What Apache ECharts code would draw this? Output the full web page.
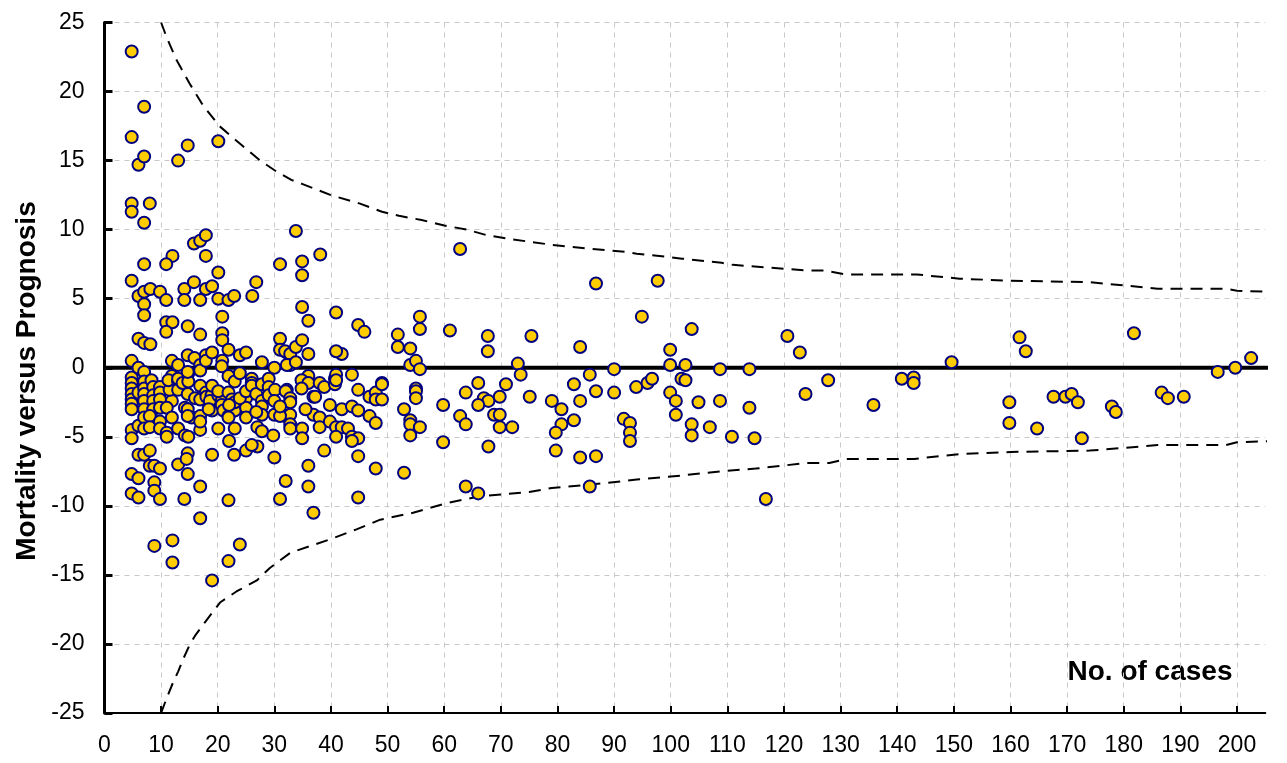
<!DOCTYPE html>
<html>
<head>
<meta charset="utf-8">
<script src="https://cdn.jsdelivr.net/npm/echarts@6/dist/echarts.min.js"></script>
<style>html,body{margin:0;padding:0;background:#fff}#c{width:1287px;height:763px}</style>
</head>
<body>
<div id="c"></div>
<script>
const xTickValues = [0,10,20,30,40,50,60,70,80,90,100,110,120,130,140,150,160,170,180,190,200];
const yTickValues = [-25,-20,-15,-10,-5,0,5,10,15,20,25];

const upperLimit = [[10,25],[11,23.9],[12.7,22.3],[15,20.6],[17.4,19.0],[20.3,17.5],[22,16.9],[24,16.2],[27.5,15.0],[30.4,14.2],[33,13.6],[35,13.3],[40,12.5],[45,11.9],[49,11.3],[52,11.0],[56,10.7],[60,10.3],[64,10.0],[67.5,9.6],[72,9.3],[79,8.9],[86,8.6],[92,8.4],[94,8.25],[98,8.1],[102,7.9],[109,7.6],[111,7.45],[124,7.05],[127,7.05],[131,6.75],[143.5,6.75],[151,6.45],[160,6.3],[174,6.2],[186,5.72],[198,5.72],[200,5.58],[208,5.46]];
const lowerLimit = [[10,-25],[11,-23.9],[12,-22.9],[13,-22.0],[14,-21.0],[15,-20.1],[16,-19.4],[17.8,-18.4],[20.4,-17.0],[23.3,-16.2],[26.9,-15.4],[29.2,-14.5],[32.8,-13.4],[40,-12.4],[44.5,-11.7],[48.7,-11.0],[54.5,-10.5],[60.5,-9.8],[66.3,-9.3],[75,-9.0],[79,-8.7],[85,-8.5],[94,-8.1],[102,-7.8],[109,-7.5],[115,-7.3],[124,-6.9],[128,-6.9],[131,-6.6],[143,-6.6],[151,-6.25],[160,-6.1],[174,-6.0],[186,-5.6],[198,-5.6],[200,-5.4],[208,-5.27]];
const zeroLine = [[0,0],[208,0]];

const hospitals = [
[4.8,22.9],[4.8,16.7],[4.8,11.9],[4.8,11.3],[4.8,6.3],[4.8,0.5],[4.8,-0.7],[4.8,-1.1],[4.8,-1.5],[4.8,-1.9],[4.8,-2.3],[4.8,-2.6],[4.8,-3.0],[4.8,-4.5],[4.8,-5.1],[4.8,-7.7],[4.8,-9.1],
[6.0,14.7],[6.0,5.2],[6.0,2.1],[6.0,0],[6.0,-4.2],[6.0,-6.3],[6.0,-8.0],[6.0,-9.4],[6.0,-1.8],
[7.0,18.9],[7.0,15.3],[7.0,10.5],[7.0,7.5],[7.0,5.5],[7.0,4.6],[7.0,3.8],[7.0,1.8],[7.0,-0.3],[7.0,-1.0],[7.0,-1.5],[7.0,-1.9],[7.0,-2.4],[7.0,-3.0],[7.0,-3.6],[7.0,-4.4],[7.0,-6.3],
[8.0,11.9],[8.1,5.7],[8.1,1.7],[8.3,-0.9],[8.6,-1.4],[8.6,-2.0],[8.6,-2.4],[8.6,-3.0],[8.0,-3.5],[8.0,-4.3],[8.0,-6.0],[8.0,-7.1],[8.8,-8.3],[8.8,-8.9],[8.8,-12.9],[8.8,-7.1],
[9.8,5.5],[9.8,-1.4],[9.8,-1.8],[9.8,-2.3],[9.8,-2.9],[9.8,-3.9],[9.8,-4.4],[9.8,-7.3],[9.8,-9.5],
[12.0,8.1],[10.9,7.5],[10.9,4.9],[10.9,3.3],[12.0,3.3],[10.9,2.6],[11.9,0.5],[11.9,-0.6],[11.9,-2.4],[11.0,-2.9],[11.9,-3.6],[11.0,-4.7],[11.0,-5.0],[12.0,-12.5],[12.0,-14.1],[11.5,-1.6],[11.3,-0.9],
[13.0,15.0],[13.0,0.2],[13.0,-1.0],[13.0,-1.6],[13.0,-4.4],[13.0,-7.0],[13.0,-0.8],[13.8,-1.1],
[14.7,16.1],[14.1,5.7],[14.1,4.9],[14.7,3.0],[14.7,0.9],[14.8,-0.4],[14.8,-1.0],[14.2,-2.9],[14.2,-4.9],[14.8,-5.0],[14.7,-6.2],[14.5,-6.6],[14.7,-7.7],[14.1,-9.5],[14.7,-0.3],[14.7,-1.9],[14.7,-3.0],[15.4,-3.6],[14.7,-3.5],
[15.8,9.0],[16.9,9.2],[15.8,6.2],[16.9,4.9],[16.9,2.4],[15.9,0.7],[16.9,0.2],[16.9,-0.2],[16.0,-2.2],[16.9,-2.3],[16.9,-3.5],[16.9,-4.5],[16.9,-8.6],[16.9,-10.9],[16.9,-1.3],[17.9,-1.8],[16.9,-3.9],
[17.9,9.6],[17.9,8.1],[17.9,5.7],[19.0,5.9],[17.9,0.9],[17.9,0.5],[19.0,1.1],[18.0,-2.1],[18.9,-2.0],[18.6,-2.4],[19.0,-3.1],[19.0,-6.3],[19.0,-15.4],[19.0,-1.3],[18.4,-3.0],
[20.1,16.4],[20.1,6.9],[20.1,5.0],[20.8,3.7],[20.8,2.5],[20.8,2.0],[20.8,0.5],[20.7,0.1],[20.1,-2.0],[20.7,-2.4],[20.1,-4.4],[20.1,-1.7],[20.7,-2.7],[21.0,-3.1],
[21.9,4.9],[22.9,5.2],[21.9,1.3],[21.9,-3.5],[21.9,-0.6],[23.0,-1.0],[21.9,-1.8],[22.5,-2.3],[23.0,-3.1],[21.9,-3.6],[23.0,-4.4],[22.0,-5.3],[22.9,-6.3],[21.9,-9.6],[21.9,-14.0],[23.0,-2.5],[22.0,-2.7],
[23.9,0.9],[25.0,1.1],[23.9,-0.4],[25.0,-2.2],[25.0,-2.9],[25.0,-3.6],[25.0,-6.0],[23.9,-12.8],[23.9,-2.2],[25.0,-1.7],
[26.1,5.2],[26.8,6.2],[27.8,0.4],[26.0,-0.8],[26.0,-1.1],[26.0,-1.3],[26.8,-1.9],[27.8,-1.2],[27.8,-2.4],[27.8,-2.8],[27.8,-3.4],[27.0,-4.3],[27.8,-4.6],[27.0,-5.7],[26.8,-3.2],[26.0,-5.6],
[29.0,-0.8],[29.0,-1.4],[29.0,-2.0],[30.0,0],[30.1,-1.6],[30.0,-2.4],[30.0,-3.4],[29.8,-4.9],[30.0,-6.5],
[31.0,7.5],[31.0,2.1],[31.0,1.3],[32.2,1.1],[31.9,1.2],[32.8,1.0],[32.8,0.2],[32.2,0.2],[32.2,-1.6],[32.0,-1.7],[32.8,-2.2],[32.8,-2.5],[32.0,-3.5],[32.8,-3.4],[32.8,-4.1],[32.8,-4.4],[31.0,-3.5],[32.0,-8.2],[31.0,-9.5],[33.8,9.9],[33.8,1.5],[33.8,0.4],[31.0,-2.8],
[34.9,7.7],[34.9,6.7],[34.9,4.4],[36.0,3.4],[34.9,2.0],[36.0,1.0],[36.0,-0.6],[34.8,-0.9],[36.0,-1.1],[34.8,-1.5],[36.9,-2.1],[36.9,-3.4],[34.9,-4.4],[34.9,-5.1],[36.0,-7.1],[36.0,-8.6],[36.9,-10.5],[35.5,-3.0],
[38.1,8.2],[38.0,-1.1],[38.8,-1.4],[37.2,-2.1],[38.0,-3.6],[38.0,-4.3],[39.8,-2.7],[39.8,-3.9],[38.8,-6.0],[40.7,-0.8],[40.7,-1.2],
[40.9,4.0],[41.9,1.0],[40.9,1.2],[40.9,-0.5],[40.9,-0.9],[43.7,-0.5],[41.9,-3.0],[43.7,-2.8],[44.8,-3.1],[40.9,-4.3],[41.9,-4.3],[43.0,-4.4],[40.9,-5.0],[43.7,-5.0],[44.8,-5.1],[43.7,-5.3],[44.8,3.1],[45.9,2.6],[44.8,-1.6],[44.8,-6.4],[44.8,-9.4],
[46.8,-2.1],[47.9,-1.8],[47.9,-2.3],[49.0,-1.1],[49.0,-1.2],[49.0,-2.3],[46.8,-3.5],[47.9,-4.0],[47.9,-7.3],
[51.8,2.4],[51.8,1.5],[54.0,1.4],[55.7,3.7],[55.7,2.8],[54.0,0.2],[55.0,0.5],[55.7,-0.1],[55.0,-1.5],[55.0,-1.7],[55.0,-2.2],[52.9,-3.0],[54.0,-3.8],[54.0,-4.1],[55.7,-4.3],[54.0,-4.9],[52.9,-7.6],
[61.0,2.7],[62.8,8.6],[59.8,-2.7],[63.8,-1.8],[62.8,-3.5],[63.8,-4.1],[59.8,-5.4],[63.8,-8.6],
[67.7,2.3],[67.7,1.2],[66.0,-1.1],[67.0,-2.2],[67.8,-2.4],[66.0,-2.7],[69.8,-2.1],[70.9,-1.2],[68.8,-3.4],[69.8,-3.4],[69.8,-4.3],[72.0,-4.3],[67.8,-5.7],[66.0,-9.1],
[73.0,0.3],[73.5,-0.5],[75.4,2.3],[75.1,-2.1],
[79.0,-2.4],[80.7,-3.0],[82.9,-1.2],[84.0,1.5],[84.0,-2.4],[82.9,-3.8],[80.7,-4.1],[79.7,-4.7],[79.7,-6.0],[84.0,-6.5],[86.8,-6.4],[85.7,-0.5],[86.8,-1.7],[86.8,6.1],[85.7,-8.6],
[90.0,-0.1],[90.0,-1.8],[93.9,-1.4],[95.9,-1.1],[96.7,-0.8],[94.9,3.7],[97.7,6.3],[91.7,-3.7],[92.8,-4.0],[92.8,-4.7],[92.8,-5.3],
[99.9,1.3],[99.9,0.2],[102.6,0.2],[101.9,-0.8],[102.6,-0.9],[99.9,-1.8],[100.9,-2.4],[100.9,-3.4],[103.7,2.8],[103.7,-4.1],[103.7,-4.9],[104.9,-2.5],
[106.9,-4.3],[108.7,-0.1],[108.7,-2.4],[110.8,-5.0],[113.9,-0.1],[113.9,-2.9],[114.8,-5.1],[116.8,-9.5],
[120.6,2.3],[122.8,1.1],[123.8,-1.9],[127.8,-0.9],
[135.8,-2.7],[140.8,-0.8],[142.9,-0.7],[142.9,-1.1],
[149.6,0.4],[159.8,-2.5],[159.8,-4.0],[161.6,2.2],[162.7,1.2],[164.7,-4.4],
[167.6,-2.1],[169.7,-2.1],[170.8,-1.9],[171.9,-2.5],[172.6,-5.1],
[177.9,-2.8],[178.6,-3.2],[181.8,2.5],[186.7,-1.8],[187.8,-2.2],[190.6,-2.1],
[196.6,-0.3],[199.7,0.0],[202.5,0.7]
];

const chart = echarts.init(document.getElementById('c'), null, {renderer: 'canvas'});
const FONT = 'Liberation Sans, Arial, sans-serif';
chart.setOption({
  animation: false,
  backgroundColor: '#ffffff',
  grid: {left: 104.5, right: 21.7, top: 22.5, bottom: 50, containLabel: false},
  xAxis: {
    type: 'value', min: 0, max: 205,
    axisLine: {show: true, onZero: false, lineStyle: {color: '#000', width: 2}},
    axisTick: {show: true, inside: true, length: 7, customValues: xTickValues, lineStyle: {color: '#000', width: 2}},
    axisLabel: {show: true, customValues: xTickValues, margin: 21, color: '#000', fontFamily: FONT, fontSize: 23},
    splitLine: {show: true, lineStyle: {color: '#c8c8c8', width: 1, type: [5, 5]}}
  },
  yAxis: {
    type: 'value', min: -25, max: 25, interval: 5,
    axisLine: {show: true, onZero: false, lineStyle: {color: '#000', width: 3}},
    axisTick: {show: true, inside: true, length: 8, lineStyle: {color: '#000', width: 3}},
    axisLabel: {show: true, margin: 20, color: '#000', fontFamily: FONT, fontSize: 23},
    splitLine: {show: true, lineStyle: {color: '#c8c8c8', width: 1, type: [5, 5]}}
  },
  graphic: [
    {type: 'text', x: 27, y: 381, rotation: Math.PI / 2,
     style: {text: 'Mortality versus Prognosis', fill: '#000', font: 'bold 28px ' + FONT, textAlign: 'center', textVerticalAlign: 'middle'}},
    {type: 'text', x: 1150, y: 672,
     style: {text: 'No. of cases', fill: '#000', font: 'bold 28px ' + FONT, textAlign: 'center', textVerticalAlign: 'middle'}}
  ],
  series: [
    {type: 'line', data: zeroLine, clip: false, symbol: 'none', z: 2,
     lineStyle: {color: '#000', width: 4}},
    {type: 'line', data: upperLimit, clip: true, symbol: 'none', z: 2,
     lineStyle: {color: '#000', width: 2, type: [12, 8]}},
    {type: 'line', data: lowerLimit, clip: true, symbol: 'none', z: 2,
     lineStyle: {color: '#000', width: 2, type: [12, 8]}},
    {type: 'scatter', data: hospitals, symbol: 'circle', symbolSize: 12, z: 3,
     itemStyle: {color: '#FFCC00', borderColor: '#000080', borderWidth: 2, opacity: 1}}
  ]
});
</script>
</body>
</html>
